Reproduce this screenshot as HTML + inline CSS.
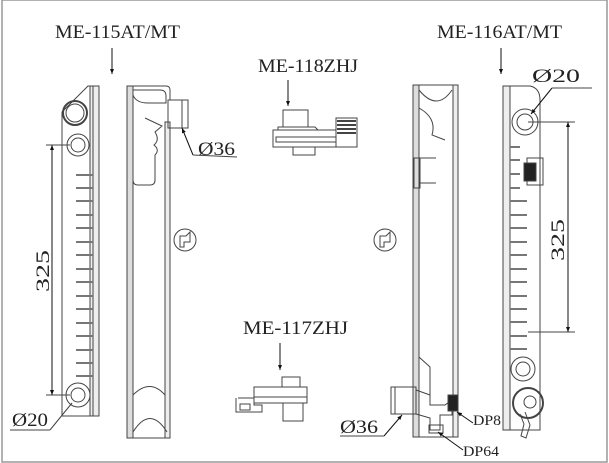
<!DOCTYPE html>
<html><head><meta charset="utf-8"><style>
html,body{margin:0;padding:0;background:#fff;}
svg{display:block;}
text{font-family:"Liberation Serif",serif;fill:#222;}
</style></head><body>
<svg width="609" height="463" viewBox="0 0 609 463" xmlns="http://www.w3.org/2000/svg">
<defs>
<marker id="ar" viewBox="0 0 10 10" refX="10" refY="5" markerWidth="5" markerHeight="7" orient="auto-start-reverse"><path d="M0,1 L10,5 L0,9 z" fill="#111"/></marker>
</defs>
<rect x="2" y="0" width="605" height="462" fill="none" stroke="#999" stroke-width="1.5"/>

<g fill="none" stroke="#444" stroke-width="1">
<path d="M62,112 L88,86 L99,86 L99,416 L62,416 Z"/>
<rect x="90" y="86" width="9" height="330" fill="#eee"/>
<line x1="93" y1="86" x2="93" y2="416"/>
<circle cx="75" cy="113" r="12" stroke-width="2"/><circle cx="75" cy="113" r="9"/>
<circle cx="78" cy="145" r="11"/><circle cx="78" cy="145" r="7"/>
<circle cx="78" cy="395" r="12"/><circle cx="78" cy="395" r="7"/>
<g stroke="#777" stroke-width="2">
<line x1="76" y1="175" x2="93" y2="175"/><line x1="76" y1="188" x2="93" y2="188"/><line x1="76" y1="201" x2="93" y2="201"/><line x1="76" y1="215" x2="93" y2="215"/><line x1="76" y1="228" x2="93" y2="228"/><line x1="76" y1="242" x2="93" y2="242"/><line x1="76" y1="255" x2="93" y2="255"/><line x1="76" y1="269" x2="93" y2="269"/><line x1="76" y1="282" x2="93" y2="282"/><line x1="76" y1="296" x2="93" y2="296"/><line x1="76" y1="309" x2="93" y2="309"/><line x1="76" y1="323" x2="93" y2="323"/><line x1="76" y1="336" x2="93" y2="336"/><line x1="76" y1="350" x2="93" y2="350"/><line x1="76" y1="363" x2="93" y2="363"/><line x1="76" y1="376" x2="93" y2="376"/>
</g>
<line x1="46" y1="145" x2="70" y2="145"/><line x1="46" y1="395" x2="70" y2="395"/>
<line x1="52" y1="145" x2="52" y2="395" stroke="#111" marker-start="url(#ar)" marker-end="url(#ar)"/>
<line x1="72" y1="403" x2="50" y2="430"/><line x1="10" y1="430" x2="50" y2="430"/>

<path d="M127,438 L127,90 Q127,86 131,86 L166,86 Q170,86 170,90 L170,100"/>
<path d="M170,128 L170,434 Q170,438 166,438 L131,438"/>
<rect x="127" y="86" width="6" height="352" fill="#ddd"/>
<rect x="165" y="122" width="5" height="316" fill="#eee"/>
<path d="M133,90 L160,90 Q166,90 166,96 L166,103 L148,103 Q136,103 133,95"/>
<rect x="168" y="100" width="20" height="28"/><line x1="182" y1="100" x2="182" y2="128"/>
<path d="M145,118 L162,126 L155,132 Q160,140 154,145 Q160,150 155,155 L155,180 Q155,185 150,185 L138,185 Q133,185 133,180"/>
<path d="M133,395 Q150,378 165,395"/>
<path d="M133,432 Q150,405 167,432"/>
<line x1="182" y1="128" x2="193" y2="155" stroke="#111" marker-start="url(#ar)"/><line x1="193" y1="155" x2="237" y2="157"/>
<circle cx="185" cy="240" r="11"/><path d="M180,236 L186,236 L190,232 L190,242 L184,242 L184,247 L180,247 Z"/>

<rect x="283" y="110" width="25" height="17"/>
<path d="M278,127 L315,127 L318,130 L278,130 Z"/>
<rect x="273" y="130" width="84" height="17"/>
<rect x="276" y="137" width="78" height="5"/>
<rect x="336" y="118" width="21" height="29" fill="#fff"/>
<g stroke="#444" stroke-width="2"><line x1="337" y1="121" x2="356" y2="121"/><line x1="337" y1="125" x2="356" y2="125"/><line x1="337" y1="129" x2="356" y2="129"/><line x1="337" y1="133" x2="356" y2="133"/></g>
<rect x="293" y="147" width="22" height="8"/>
<line x1="288" y1="80" x2="288" y2="106" stroke="#111" marker-end="url(#ar)"/>

<rect x="282" y="377" width="18" height="10"/>
<rect x="254" y="387" width="53" height="10"/>
<rect x="254" y="397" width="53" height="6"/>
<path d="M238,398 L254,398 L254,405 L262,405 L262,412 L236,412 L236,398"/>
<rect x="240" y="404" width="10" height="6"/>
<rect x="283" y="403" width="20" height="18"/>
<line x1="280" y1="343" x2="280" y2="370" stroke="#111" marker-end="url(#ar)"/>

<path d="M413,437 L413,89 Q413,85 417,85 L454,85 Q458,85 458,89 L458,437 Z"/>
<rect x="413" y="85" width="6" height="352" fill="#ddd"/>
<rect x="453" y="85" width="5" height="352" fill="#eee"/>
<path d="M419,90 Q437,112 452,90"/><path d="M419,108 Q437,118 432,135 L445,140"/>
<rect x="414" y="158" width="6" height="30"/><line x1="420" y1="158" x2="436" y2="158"/><line x1="420" y1="183" x2="436" y2="183"/>
<circle cx="385" cy="240" r="11"/><path d="M380,236 L386,236 L390,232 L390,242 L384,242 L384,247 L380,247 Z"/>
<path d="M419,357 L430,367 L430,395"/>
<rect x="391" y="387" width="25" height="27"/><line x1="395" y1="387" x2="395" y2="414"/>
<path d="M416,390 L430,395 L430,405 L445,405 L452,400 L452,415 L440,415 L440,430 L430,430 L430,418 L416,414"/>
<rect x="448" y="395" width="10" height="16" fill="#222"/>
<rect x="429" y="425" width="14" height="8"/>
<line x1="402" y1="415" x2="384" y2="436" stroke="#111" marker-start="url(#ar)"/><line x1="340" y1="436" x2="384" y2="436"/>
<line x1="457" y1="412" x2="473" y2="423" stroke="#111" marker-start="url(#ar)"/>
<line x1="438" y1="432" x2="463" y2="450" stroke="#111" marker-start="url(#ar)"/>

<path d="M503,86 L530,86 Q540,88 540,100 L540,430 L503,430 Z"/>
<rect x="503" y="86" width="7" height="344" fill="#eee"/>
<circle cx="525" cy="122" r="13"/><circle cx="525" cy="122" r="8"/>
<rect x="527" y="158" width="16" height="27"/>
<rect x="524" y="163" width="12" height="18" fill="#222"/>
<g stroke="#777" stroke-width="2">
<line x1="510" y1="147" x2="520" y2="147"/><line x1="510" y1="160" x2="520" y2="160"/><line x1="510" y1="174" x2="520" y2="174"/><line x1="510" y1="188" x2="520" y2="188"/><line x1="510" y1="201" x2="527" y2="201"/><line x1="510" y1="215" x2="527" y2="215"/><line x1="510" y1="228" x2="527" y2="228"/><line x1="510" y1="242" x2="527" y2="242"/><line x1="510" y1="255" x2="527" y2="255"/><line x1="510" y1="269" x2="527" y2="269"/><line x1="510" y1="282" x2="527" y2="282"/><line x1="510" y1="296" x2="527" y2="296"/><line x1="510" y1="309" x2="527" y2="309"/><line x1="510" y1="322" x2="527" y2="322"/><line x1="510" y1="336" x2="527" y2="336"/><line x1="510" y1="349" x2="527" y2="349"/>
</g>
<circle cx="523" cy="369" r="12"/><circle cx="523" cy="369" r="7"/>
<circle cx="528" cy="403" r="15" stroke-width="2"/><circle cx="530" cy="402" r="6"/>
<path d="M525,412 L530,425 L526,438 L521,436 L524,424 L520,414"/>
<line x1="528" y1="122" x2="575" y2="122"/><line x1="528" y1="332" x2="575" y2="332"/>
<line x1="568" y1="122" x2="568" y2="332" stroke="#111" marker-start="url(#ar)" marker-end="url(#ar)"/>
<line x1="531" y1="114" x2="552" y2="88" stroke="#111" marker-start="url(#ar)"/><line x1="552" y1="88" x2="592" y2="88"/>

<line x1="112" y1="48" x2="112" y2="74" stroke="#111" marker-end="url(#ar)"/>
<line x1="501" y1="48" x2="501" y2="74" stroke="#111" marker-end="url(#ar)"/>
</g>

<g font-size="19">
<text x="55" y="38" textLength="125" lengthAdjust="spacingAndGlyphs">ME-115AT/MT</text>
<text x="437" y="38" textLength="125" lengthAdjust="spacingAndGlyphs">ME-116AT/MT</text>
<text x="258" y="72" textLength="100" lengthAdjust="spacingAndGlyphs">ME-118ZHJ</text>
<text x="243" y="334" textLength="105" lengthAdjust="spacingAndGlyphs">ME-117ZHJ</text>
<text x="198" y="155" textLength="37" lengthAdjust="spacingAndGlyphs">Ø36</text>
<text x="532" y="82" textLength="48" lengthAdjust="spacingAndGlyphs">Ø20</text>
<text x="12" y="426" textLength="36" lengthAdjust="spacingAndGlyphs">Ø20</text>
<text x="340" y="433" textLength="38" lengthAdjust="spacingAndGlyphs">Ø36</text>
<text x="49" y="292" transform="rotate(-90 49 292)" textLength="42" lengthAdjust="spacingAndGlyphs">325</text>
<text x="564" y="261" transform="rotate(-90 564 261)" textLength="42" lengthAdjust="spacingAndGlyphs">325</text>
</g>
<g font-size="15">
<text x="473" y="425" textLength="28" lengthAdjust="spacingAndGlyphs">DP8</text>
<text x="463" y="456" textLength="36" lengthAdjust="spacingAndGlyphs">DP64</text>
</g>
</svg>
</body></html>
